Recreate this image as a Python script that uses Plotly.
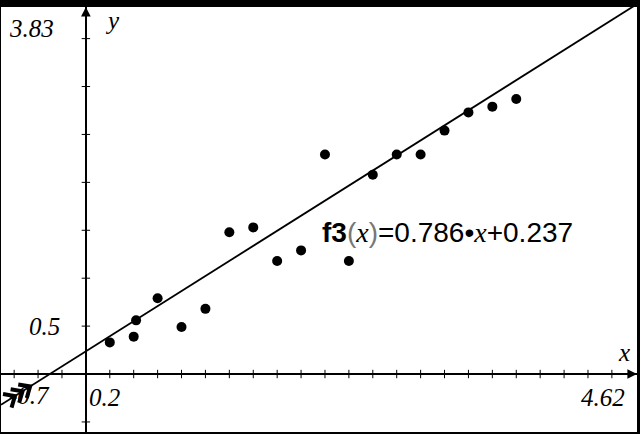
import numpy as np
import plotly.graph_objects as go

# Data
x_vals = [0.2, 0.4, 0.42, 0.6, 0.8, 1.0, 1.2, 1.4, 1.6, 1.8, 2.0, 2.2, 2.4, 2.6, 2.8, 3.0, 3.2, 3.4, 3.6]
y_vals = [0.33, 0.39, 0.56, 0.79, 0.49, 0.68, 1.48, 1.53, 1.18, 1.29, 2.29, 1.18, 2.08, 2.29, 2.29, 2.54, 2.73, 2.79, 2.87]
slope = 0.786
intercept = 0.237
x_range = [-0.71, 4.61]
y_range = [-0.605, 3.83]
x_step = 0.2
y_step = 0.5
label_xmin = "-0.7"
label_xmax = "4.62"
label_ymax = "3.83"
label_xscl = "0.2"
label_yscl = "0.5"

serif = "Liberation Serif"
sans = "Liberation Sans"
W, H = 640, 434
M = dict(l=1, r=3, t=7, b=2)

fig = go.Figure()

# regression line
lx = np.array(x_range)
fig.add_trace(go.Scatter(x=lx, y=slope * lx + intercept, mode="lines",
                         line=dict(color="black", width=1.8), hoverinfo="skip"))

# tick marks on the axes
xt = [v for v in np.arange(-3 * x_step, x_range[1] - 0.05, x_step) if abs(v) > 1e-9]
yt = [v for v in np.arange(-1 * y_step, y_range[1], y_step) if abs(v) > 1e-9]
fig.add_trace(go.Scatter(x=xt, y=[0] * len(xt), mode="markers",
                         marker=dict(symbol="line-ns", size=6, line=dict(color="black", width=1)),
                         hoverinfo="skip"))
fig.add_trace(go.Scatter(x=[0] * len(yt), y=yt, mode="markers",
                         marker=dict(symbol="line-ew", size=6, line=dict(color="black", width=1)),
                         hoverinfo="skip"))

# chevrons on the line (line-continues marker), built from the line's direction
kx = (W - M["l"] - M["r"]) / (x_range[1] - x_range[0])
ky = (H - M["t"] - M["b"]) / (y_range[1] - y_range[0])
m_px = slope * ky / kx
nrm = np.hypot(1, m_px)
u = np.array([1, m_px]) / nrm          # along line, pixel units
n = np.array([-m_px, 1]) / nrm         # normal
cx0 = -0.53
c0 = np.array([cx0, slope * cx0 + intercept])
cxs, cys = [], []
for s in (-9, 0, 9):
    tip = s * u
    a1 = tip - 9 * u + 8 * n
    a2 = tip - 9 * u - 8 * n
    for p in (a1, tip, a2):
        cxs.append(c0[0] + p[0] / kx)
        cys.append(c0[1] + p[1] / ky)
    cxs.append(None)
    cys.append(None)
fig.add_trace(go.Scatter(x=cxs, y=cys, mode="lines", line=dict(color="black", width=4),
                         hoverinfo="skip"))

# data points
fig.add_trace(go.Scatter(x=x_vals, y=y_vals, mode="markers",
                         marker=dict(color="black", size=10), hoverinfo="skip"))

ann = []
tf = dict(family=serif, size=25, color="black")
# axis labels
ann.append(dict(x=0, y=1, xref="paper", yref="paper", xanchor="left", yanchor="top",
                xshift=6, yshift=-6, text="<i>" + label_ymax + "</i>", showarrow=False, font=tf))
ann.append(dict(x=0, y=0.5, xref="paper", yref="y", xanchor="left", yanchor="middle",
                xshift=26, text="<i>" + label_yscl + "</i>", showarrow=False, font=tf))
ann.append(dict(x=0, y=0, xref="x", yref="y", xanchor="left", yanchor="top",
                xshift=1, yshift=-8, text="<i>" + label_xscl + "</i>", showarrow=False, font=tf))
ann.append(dict(x=1, y=0, xref="paper", yref="y", xanchor="right", yanchor="top",
                xshift=-10, yshift=-8, text="<i>" + label_xmax + "</i>", showarrow=False, font=tf))
ann.append(dict(x=0, y=0, xref="paper", yref="y", xanchor="left", yanchor="top",
                xshift=6, yshift=-6, text="<i>" + label_xmin + "</i>", showarrow=False, font=tf))
ann.append(dict(x=1, y=0, xref="paper", yref="y", xanchor="right", yanchor="bottom",
                xshift=-5, yshift=6, text="<i>x</i>", showarrow=False, font=tf))
ann.append(dict(x=0, y=1, xref="x", yref="paper", xanchor="left", yanchor="top",
                xshift=17, yshift=2, text="<i>y</i>", showarrow=False, font=tf))
# axis arrows
ann.append(dict(x=0, y=y_range[1], xref="x", yref="y", ax=0, ay=30, axref="pixel", ayref="pixel",
                text="", showarrow=True, arrowhead=2, arrowsize=1.2, arrowwidth=1.6, arrowcolor="black"))
ann.append(dict(x=x_range[1], y=0, xref="x", yref="y", ax=-30, ay=0,
                text="", showarrow=True, arrowhead=2, arrowsize=1.2, arrowwidth=1.6, arrowcolor="black"))
# equation
eq = ("<b>f3</b><span style='color:#777'>(</span>"
      "<span style='font-family:Liberation Serif'><i>x</i></span>"
      "<span style='color:#777'>)</span>=" + "{:.3f}".format(slope) + "•"
      "<span style='font-family:Liberation Serif'><i>x</i></span>+" + "{:.3f}".format(intercept))
ann.append(dict(x=1.96, y=1.48, xref="x", yref="y", xanchor="left", yanchor="middle",
                text=eq, showarrow=False, font=dict(family=sans, size=28, color="black")))

fig.update_layout(
    width=W, height=H,
    margin=M,
    paper_bgcolor="black", plot_bgcolor="white",
    showlegend=False,
    annotations=ann,
    xaxis=dict(range=x_range, showgrid=False, showticklabels=False, ticks="",
               zeroline=True, zerolinecolor="black", zerolinewidth=1.6, fixedrange=True),
    yaxis=dict(range=y_range, showgrid=False, showticklabels=False, ticks="",
               zeroline=True, zerolinecolor="black", zerolinewidth=1.6, fixedrange=True),
)
fig.write_html("out.html", config={"displayModeBar": False},
               post_script="document.body.style.margin='0';document.body.style.overflow='hidden';")
